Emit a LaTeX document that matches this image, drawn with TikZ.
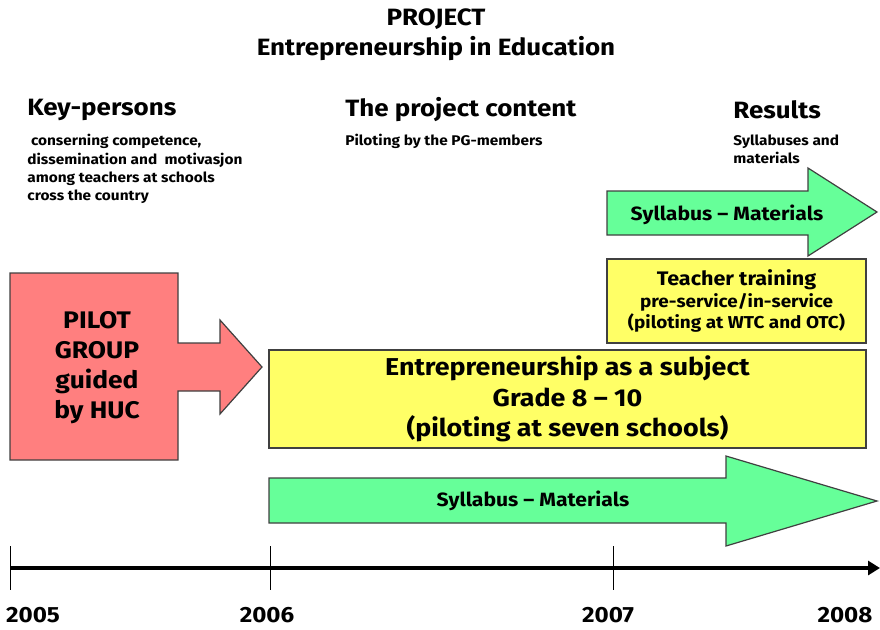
\documentclass[tikz,border=0pt]{standalone}
\usepackage{fontspec}
\setmainfont{Fira Sans}[FakeStretch=1.1]
\usetikzlibrary{arrows.meta}
\definecolor{arrowgreen}{HTML}{66FF99}
\definecolor{boxyellow}{HTML}{FFFF66}
\definecolor{pilotred}{HTML}{FF7F7F}
\tikzset{
  label/.style={inner sep=0pt, font=\bfseries},
  shape line/.style={draw=black!75, line width=0.6pt},
  ybox/.style={shape line, fill=boxyellow, align=center, inner sep=0pt, font=\bfseries},
}
\begin{document}
\begin{tikzpicture}[x=0.5pt, y=-0.5pt]
  \useasboundingbox (0,0) rectangle (880,629);
  \node[label, align=center, font=\bfseries\fontsize{11.8}{15}\selectfont] (title) at (436,35)
    {PROJECT\\Entrepreneurship in Education};
  \node[label, anchor=west, font=\bfseries\fontsize{11.8}{15}\selectfont] (keyp) at (27,110) {Key-persons};
  \node[label, anchor=west, font=\bfseries\fontsize{11.8}{15}\selectfont] (content) at (345,110) {The project content};
  \node[label, anchor=west, font=\bfseries\fontsize{11.8}{15}\selectfont] (results) at (733,110) {Results};
  \node[label, anchor=north west, align=left, font=\bfseries\fontsize{7}{9.2}\selectfont] (keyptext) at (27,134)
    {\ conserning competence,\\dissemination and\ \ motivasjon\\among teachers at schools\\cross the country};
  \node[label, anchor=north west, font=\bfseries\fontsize{7}{9.2}\selectfont] (contenttext) at (345,134)
    {Piloting by the PG-members};
  \node[label, anchor=north west, align=left, font=\bfseries\fontsize{7}{9.2}\selectfont] (resultstext) at (733,134)
    {Syllabuses and\\materials};

  \filldraw[shape line, fill=pilotred]
    (10,273) -- (178,273) -- (178,343) -- (220,343) -- (220,320) -- (262,367)
    -- (220,414) -- (220,391) -- (178,391) -- (178,460) -- (10,460) -- cycle;
  \node[label, align=center, font=\bfseries\fontsize{12}{15}\selectfont] (pilot) at (97,368)
    {PILOT\\GROUP\\guided\\by HUC};

  \filldraw[shape line, fill=arrowgreen]
    (607,191) -- (808,191) -- (808,168) -- (877,212) -- (808,256) -- (808,235) -- (607,235) -- cycle;
  \node[label, font=\bfseries\fontsize{9.6}{12}\selectfont] (syll1) at (727,215) {Syllabus -- Materials};

  \node[ybox, minimum width=129.5pt, minimum height=42pt, font=\bfseries\fontsize{8.6}{10.6}\selectfont] (teacher) at (736.5,301)
    {{\fontsize{9.8}{12}\selectfont Teacher training}\\pre-service/in-service\\(piloting at WTC and OTC)};

  \node[ybox, minimum width=298.5pt, minimum height=49pt, font=\bfseries\fontsize{12.2}{15.3}\selectfont] (subject) at (567.5,399)
    {Entrepreneurship as a subject\\Grade 8 -- 10\\(piloting at seven schools)};

  \filldraw[shape line, fill=arrowgreen]
    (269,478) -- (726,478) -- (726,456) -- (877,501) -- (726,546) -- (726,523) -- (269,523) -- cycle;
  \node[label, font=\bfseries\fontsize{9.6}{12}\selectfont] (syll2) at (533,501) {Syllabus -- Materials};

  \coordinate (t0) at (10,568);
  \coordinate (t1) at (880,568);
  \draw[line width=2pt, -{Triangle[length=6pt, width=7pt]}] (t0) -- (t1);
  \foreach \x in {10,270,613}
    \draw[line width=0.4pt] (\x,546) -- (\x,590);
  \node[label, font=\bfseries\fontsize{11}{12}\selectfont] (y2005) at (33,615) {2005};
  \node[label, font=\bfseries\fontsize{11}{12}\selectfont] (y2006) at (267,615) {2006};
  \node[label, font=\bfseries\fontsize{11}{12}\selectfont] (y2007) at (608,615) {2007};
  \node[label, font=\bfseries\fontsize{11}{12}\selectfont] (y2008) at (845,615) {2008};
\end{tikzpicture}
\end{document}
